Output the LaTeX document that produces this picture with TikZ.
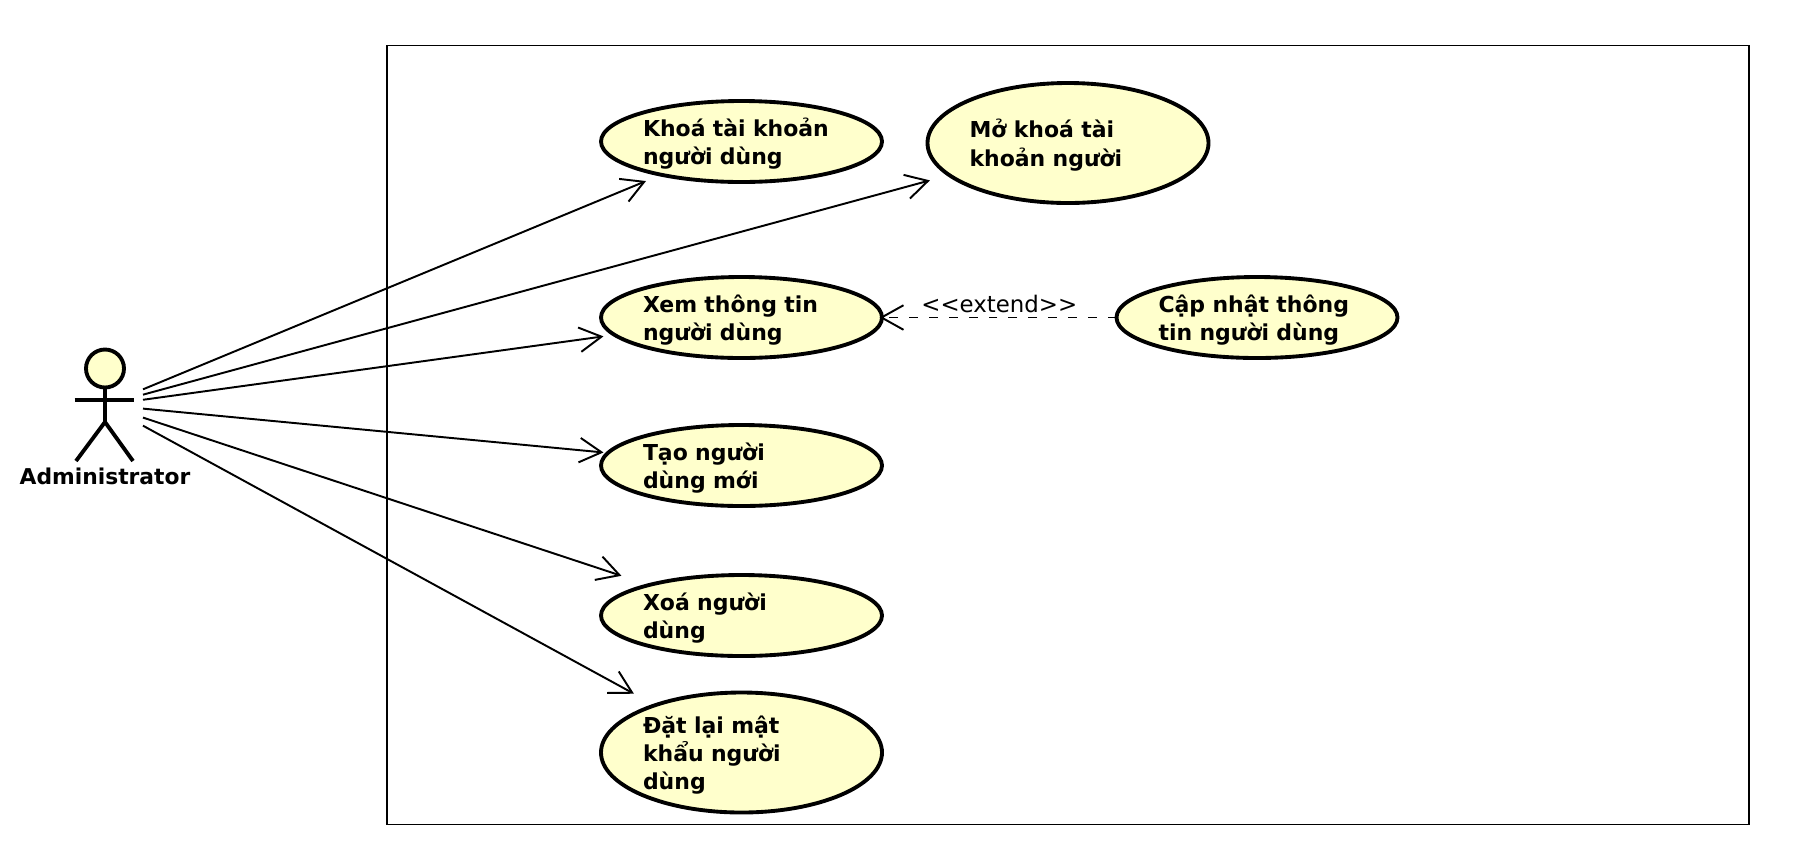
\documentclass[tikz,border=0pt]{standalone}
\usepackage{fontspec}
\setmainfont{DejaVu Sans}
\usetikzlibrary{shapes.geometric, arrows.meta, fit}
\definecolor{ucfill}{HTML}{FFFFCC}

\begin{document}
\begin{tikzpicture}[node distance=3.5cm]
    \tikzstyle{usecase} = [ellipse, draw, line width=2.2pt, fill=ucfill, minimum width=5.62cm, minimum height=1.62cm, inner sep=0pt, outer sep=0pt, text width=3.94cm, align=left, font=\fontsize{12.5}{16}\selectfont\bfseries, execute at begin node={\rule{0pt}{13.2pt}}, execute at end node={\rule[-3pt]{0pt}{0pt}}]
    \tikzstyle{tall} = [minimum height=2.4cm]
    \tikzstyle{hidden} = [rectangle, inner sep=0pt, outer sep=0pt]
    \tikzstyle{arrow} = [line width=1.1pt, shorten >=-0.05cm, -{Straight Barb[length=0.44cm, width=0.49cm, line width=1.1pt]}]
    \tikzstyle{limb} = [line width=2.2pt]

    \useasboundingbox (0,0) rectangle (36.4,-17.28);

    \node (frame) [rectangle, draw, line width=1.1pt, minimum width=27.25cm, minimum height=15.58cm] at (21.36,-8.7) {};

    \node (khoa) [usecase] at (14.83,-2.83) {Khoá tài khoản\\người dùng};
    \node (mokhoa) [usecase, tall, right of=khoa, xshift=3.03cm, yshift=-0.03cm] {Mở khoá tài\\khoản người};
    \node (xem) [usecase, below of=khoa, node distance=3.52cm] {Xem thông tin\\người dùng};
    \node (capnhat) [usecase, right of=xem, xshift=6.81cm] {Cập nhật thông\\tin người dùng};
    \node (tao) [usecase, below of=xem, node distance=2.96cm] {Tạo người\\dùng mới};
    \node (xoa) [usecase, below of=tao, node distance=3cm] {Xoá người\\dùng};
    \node (datlai) [usecase, tall, below of=xoa, node distance=2.74cm] {Đặt lại mật\\khẩu người\\dùng};

    % Boxes round the use cases, the lines stop on them
    \foreach \uc in {khoa, mokhoa, xem, capnhat, tao, xoa, datlai}
        \node (\uc-box) [hidden, fit=(\uc)] {};

    % Actor
    \node (admin) [hidden, minimum width=1.52cm, minimum height=2.24cm] at (2.1,-8.1) {};
    \node (adminlabel) [below of=admin, node distance=1.43cm, font=\fontsize{12.4}{15}\selectfont\bfseries] {Administrator};
    \draw [limb, fill=ucfill] (2.1,-7.37) circle (0.38);
    \draw [limb] (2.1,-7.75) -- (2.1,-8.44);
    \draw [limb] (1.49,-8) -- (2.68,-8);
    \draw [limb] (1.52,-9.22) -- (2.1,-8.44) -- (2.66,-9.22);

    % Arrows
    \draw [arrow] (admin) -- (khoa-box);
    \draw [arrow] (admin) -- (mokhoa-box);
    \draw [arrow] (admin) -- (xem-box);
    \draw [arrow] (admin) -- (tao-box);
    \draw [arrow] (admin) -- (xoa-box);
    \draw [arrow] (admin) -- (datlai-box);
    \draw [arrow, dash pattern=on 5pt off 6.3pt] (capnhat-box) -- node[anchor=south, inner sep=2pt, font=\fontsize{13}{15}\selectfont] (extendlabel) {<{}<extend>{}>} (xem-box);
\end{tikzpicture}
\end{document}
